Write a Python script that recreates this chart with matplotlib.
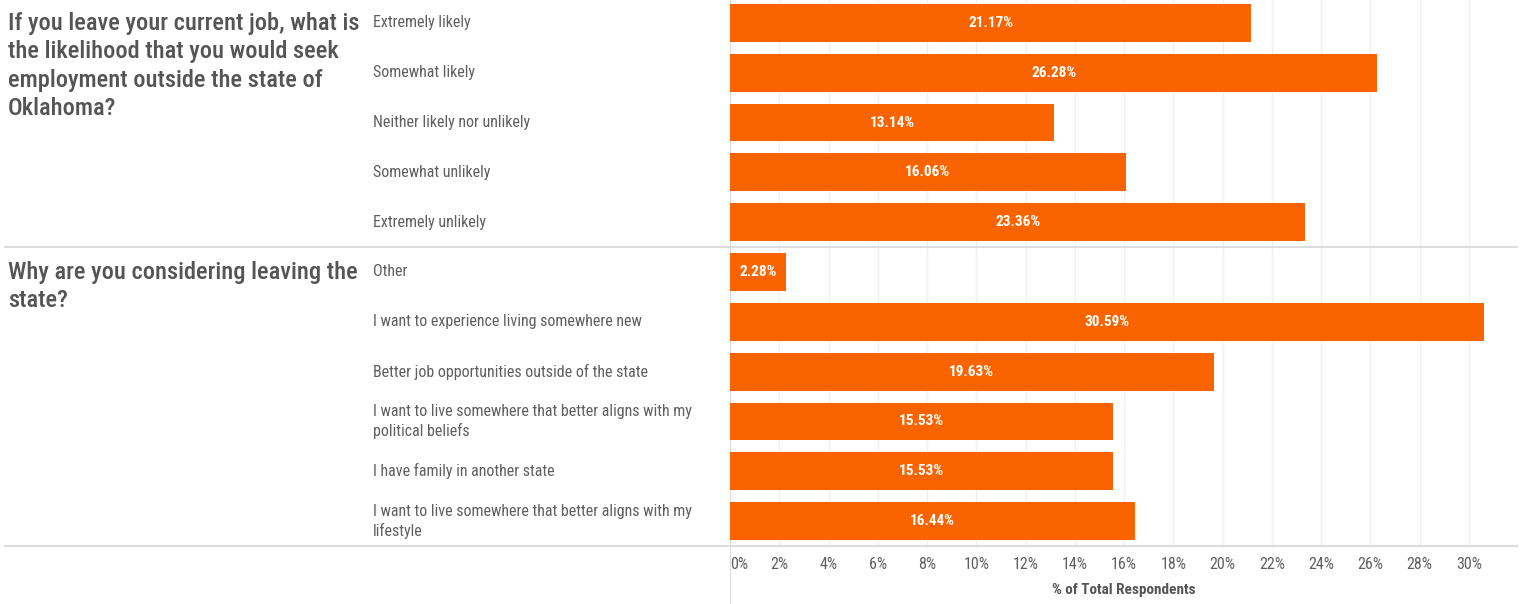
import matplotlib.pyplot as plt
from matplotlib import font_manager
from matplotlib.transforms import blended_transform_factory

# survey answers, % of total respondents
likely_labels = ["Extremely likely", "Somewhat likely", "Neither likely nor unlikely",
                 "Somewhat unlikely", "Extremely unlikely"]
likely_values = [21.17, 26.28, 13.14, 16.06, 23.36]

reason_labels = ["Other", "I want to experience living somewhere new",
                 "Better job opportunities outside of the state",
                 "I want to live somewhere that better aligns with my\npolitical beliefs",
                 "I have family in another state",
                 "I want to live somewhere that better aligns with my\nlifestyle"]
reason_values = [2.28, 30.59, 19.63, 15.53, 15.53, 16.44]

questions = ["If you leave your current job, what is\nthe likelihood that you would seek\nemployment outside the state of\nOklahoma?",
             "Why are you considering leaving the\nstate?"]

xticks = list(range(0, 31, 2))

# pick a narrow font if one is installed
installed = {f.name for f in font_manager.fontManager.ttflist}
family = "DejaVu Sans"
for name in ["Roboto Condensed", "Liberation Sans Narrow", "DejaVu Sans Condensed"]:
    if name in installed:
        family = name
        break
plt.rcParams['font.family'] = [family, 'DejaVu Sans']

orange = "#fa6400"
grey_text = "#5f5f5f"

labels = likely_labels + reason_labels
values = likely_values + reason_values
rows = list(range(len(labels)))

fig = plt.figure(figsize=(15.23, 6.04), dpi=100)
ax = fig.add_axes([730 / 1523, 58 / 604, 787 / 1523, 548 / 604])

ax.barh(rows, values, height=0.76, color=orange, zorder=3)
for r, v in zip(rows, values):
    ax.text(v / 2, r, f"{v:.2f}%", ha='center', va='center', color='white',
            fontsize=11, fontweight='bold', zorder=4)

ax.set_xlim(0, 31.95)
ax.set_ylim(len(labels) - 0.5, -0.5)
ax.set_yticks([])
ax.set_xticks(xticks)
ax.set_xticklabels([f"{t}%" for t in xticks], color=grey_text, fontsize=11.5)
ax.get_xticklabels()[0].set_horizontalalignment('left')
ax.tick_params(axis='x', length=0, pad=8)
ax.grid(axis='x', color='#f0f0f0', linewidth=1, zorder=0)
ax.set_xlabel("% of Total Respondents", color='#555555', fontsize=11, fontweight='bold', labelpad=8)

for side in ['top', 'right', 'bottom']:
    ax.spines[side].set_visible(False)
ax.spines['left'].set_color('#dddddd')
ax.spines['left'].set_bounds(len(labels) - 0.5 + 1.2, -0.5)

# category labels and section separators
tr = blended_transform_factory(fig.transFigure, ax.transData)
for r, lab in zip(rows, labels):
    ax.text(373 / 1523, r, lab, transform=tr, ha='left', va='center',
            color=grey_text, fontsize=11.5, linespacing=1.3, clip_on=False)

for y in [len(likely_labels) - 0.5, len(labels) - 0.5]:
    ax.plot([5 / 1523, 1517 / 1523], [y, y], transform=tr, color='#dddddd',
            linewidth=1.5, clip_on=False, zorder=5)

for start, q in zip([0, len(likely_labels)], questions):
    ax.text(8 / 1523, start - 0.22, q, transform=tr, ha='left', va='top',
            color='#555555', fontsize=17.6, fontweight='medium', linespacing=1.3,
            clip_on=False)

fig.savefig("out.png", dpi=100)
